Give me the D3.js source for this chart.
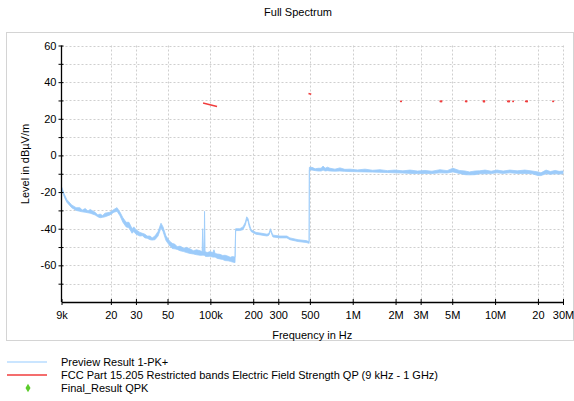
<!DOCTYPE html>
<head>
  <meta charset="utf-8">
  <script src="https://cdnjs.cloudflare.com/ajax/libs/d3/7.8.5/d3.min.js"></script>
  <style>
    body { margin: 0; background: #fff; }
    text { font-family: "Liberation Sans", Arial, sans-serif; }
  </style>
</head>

<body>
  <div id="chart"></div>

  <script>
    // preview trace: frequency (Hz), upper and lower edge of the noise band (dBµV/m)
    const previewFreq = [
      9.0e3, 9.4e3, 9.8e3, 10.6e3, 11.4e3, 12.1e3, 12.6e3, 13.2e3, 13.8e3, 14.3e3,
      15.5e3, 16.2e3, 16.8e3, 17.5e3, 18.2e3, 19.7e3, 21.0e3, 22.1e3, 23.2e3, 24.3e3,
      25.6e3, 26.8e3, 28.2e3, 29.0e3, 30.0e3, 32.0e3, 33.3e3, 34.7e3, 36.0e3, 37.7e3,
      39.0e3, 40.8e3, 42.9e3, 45.0e3, 46.5e3, 48.8e3, 52.0e3, 54.0e3, 56.4e3, 58.5e3,
      61.2e3, 65.0e3, 68.0e3, 71.9e3, 76.0e3, 80.0e3, 84.6e3, 87.5e3, 88.3e3, 89.5e3,
      90.5e3, 91.0e3, 91.8e3, 95.0e3, 99.5e3, 104e3, 106e3, 108e3, 112e3, 116.8e3,
      122e3, 127e3, 133e3, 138e3, 143e3, 149e3, 150.5e3, 161e3, 169.6e3, 176e3,
      180e3, 184e3, 187e3, 193e3, 209e3, 230e3, 250e3, 258e3, 264.5e3, 270e3,
      275e3, 308e3, 345e3, 362e3, 413e3, 470e3, 494e3, 496e3, 518e3, 545e3,
      571e3, 600e3, 619e3, 640e3, 665e3, 692e3, 750e3, 813e3, 880e3, 957e3,
      1.08e6, 1.22e6, 1.38e6, 1.555e6, 1.75e6, 1.98e6, 2.25e6, 2.53e6, 2.85e6, 3.22e6,
      3.6e6, 4.1e6, 4.6e6, 5.06e6, 5.6e6, 6.15e6, 6.6e6, 7.23e6, 7.8e6, 8.5e6,
      9.4e6, 10.3e6, 11.4e6, 12.7e6, 14.3e6, 16.2e6, 18.2e6, 20.0e6, 21.0e6, 22.8e6,
      24.5e6, 26.4e6, 28.2e6, 30.0e6
    ];
    const previewHi = [
      -17, -21, -24, -27, -28.5, -28.5, -29.8, -29, -30.3, -29.5,
      -31, -32.5, -32, -32.8, -31.5, -31, -29.5, -28.5, -31, -34,
      -36.5, -36.5, -40, -39, -40.5, -42, -42.5, -43, -44, -44,
      -45, -44, -41.5, -37, -39, -44, -47, -48, -48.5, -49.8,
      -49.5, -50.6, -50.2, -51, -52, -51.5, -52, -52.5, -40, -52.5,
      -52.5, -30.5, -52.5, -53, -52.5, -53, -51.5, -53.5, -53.8, -54,
      -54.6, -54.5, -55, -55.6, -55.2, -55.5, -40, -40, -39, -36.5,
      -33.5, -34.5, -37, -40.5, -42, -42.5, -43, -42.5, -40, -42,
      -43.5, -44, -44, -45, -46, -46.5, -47, -6.5, -6.5, -7.3,
      -7, -7, -5.8, -7, -6.4, -7, -7.5, -6.8, -7.6, -7.5,
      -7.9, -7.5, -8.1, -7.8, -8.3, -8, -8.4, -8, -8.5, -8.2,
      -8.6, -7.8, -8.3, -7, -8.2, -8.5, -9, -8.5, -8.4, -8,
      -8.6, -8, -8.5, -8, -8.4, -8, -8.5, -9, -9.5, -8,
      -8.8, -8.2, -8.7, -8.5
    ];
    const previewLo = [
      -18.5, -22.5, -25.5, -28.5, -30, -30.5, -30.8, -31, -31.3, -31.5,
      -32.5, -33.5, -34, -33.8, -33.5, -32.5, -31, -30.5, -33, -36.5,
      -39, -39.5, -42.5, -41.5, -43, -44, -43.8, -45, -45.2, -46,
      -46.2, -46, -44, -39.5, -41.5, -46.5, -49.5, -50.8, -51, -51.3,
      -52, -52.5, -53, -53.5, -53.8, -54.2, -54.5, -54.5, -54.5, -54.5,
      -54.5, -54.5, -55, -55.2, -55, -55.5, -55.5, -55.5, -56.2, -56.5,
      -56.8, -57.4, -57.5, -57.8, -58.2, -58.5, -41, -41, -40.5, -38,
      -35, -36, -38.5, -41.5, -43, -43.5, -44, -43.5, -41, -43,
      -44.5, -45, -45, -46, -47, -47.5, -48, -8, -8, -8.3,
      -8.5, -8.5, -8, -8.5, -8.3, -8.5, -8.6, -8.5, -8.7, -8.8,
      -8.9, -9, -9.1, -9.2, -9.3, -9.5, -9.6, -9.8, -9.9, -9.8,
      -9.9, -9.5, -9.6, -9, -9.8, -10.5, -10.6, -10.5, -10, -10,
      -9.9, -9.5, -9.8, -9.5, -9.8, -9.8, -10, -11, -11, -10,
      -10.3, -10, -10.2, -10
    ];

    // FCC Part 15.205 restricted bands (start Hz, stop Hz, level at start, level at stop)
    const limitStart = [90e3, 495e3, 2.1735e6, 4.125e6, 4.17725e6, 4.20725e6, 6.215e6, 6.26775e6, 6.31175e6,
      8.291e6, 8.362e6, 8.37625e6, 8.41425e6, 12.29e6, 12.51975e6, 12.57675e6, 13.36e6,
      16.42e6, 16.69475e6, 16.80425e6, 25.5e6];
    const limitStop = [110e3, 505e3, 2.1905e6, 4.128e6, 4.17775e6, 4.20775e6, 6.218e6, 6.26825e6, 6.31225e6,
      8.294e6, 8.366e6, 8.38675e6, 8.41475e6, 12.293e6, 12.52025e6, 12.57725e6, 13.41e6,
      16.423e6, 16.69525e6, 16.80475e6, 25.67e6];
    const limitFrom = [28.5, 33.7, 29.5, 29.5, 29.5, 29.5, 29.5, 29.5, 29.5,
      29.5, 29.5, 29.5, 29.5, 29.5, 29.5, 29.5, 29.5, 29.5, 29.5, 29.5, 29.5];
    const limitTo = [26.8, 33.5, 29.5, 29.5, 29.5, 29.5, 29.5, 29.5, 29.5,
      29.5, 29.5, 29.5, 29.5, 29.5, 29.5, 29.5, 29.5, 29.5, 29.5, 29.5, 29.5];

    const xTicks = [9e3, 20e3, 30e3, 50e3, 100e3, 200e3, 300e3, 500e3, 1e6, 2e6, 3e6, 5e6, 10e6, 20e6, 30e6];
    const xTickLabels = ['9k', '20', '30', '50', '100k', '200', '300', '500', '1M', '2M', '3M', '5M', '10M', '20', '30M'];
    const yTicks = [-70, -60, -50, -40, -30, -20, -10, 0, 10, 20, 30, 40, 50, 60];

    const legendNames = ['Preview Result 1-PK+',
      'FCC Part 15.205 Restricted bands Electric Field Strength QP (9 kHz - 1 GHz)',
      'Final_Result QPK'];

    const width = 574, height = 401;
    const blue = '#9ccbfa', red = '#f03c3c', green = '#5ccc2c';

    const svg = d3.select('#chart').append('svg')
      .attr('width', width)
      .attr('height', height);

    const x = d3.scaleLog().domain([9e3, 30e6]).range([61.5, 563]);
    const y = d3.scaleLinear().domain([-80, 60]).range([302, 45.5]);

    // frame and title
    svg.append('rect')
      .attr('x', 6.5).attr('y', 32.5)
      .attr('width', 567).attr('height', 308)
      .attr('fill', 'none').attr('stroke', '#d4d4d4');

    svg.append('text')
      .attr('x', 298).attr('y', 16)
      .attr('text-anchor', 'middle')
      .attr('font-size', 11)
      .text('Full Spectrum');

    // grid
    const grid = svg.append('g')
      .attr('stroke', '#cfcfcf')
      .attr('stroke-dasharray', '2,2');
    grid.selectAll('.gy').data(yTicks).join('line')
      .attr('x1', x.range()[0]).attr('x2', x.range()[1])
      .attr('y1', d => Math.round(y(d)) + 0.5).attr('y2', d => Math.round(y(d)) + 0.5);
    grid.selectAll('.gx').data(xTicks.slice(1)).join('line')
      .attr('x1', d => Math.round(x(d)) + 0.5).attr('x2', d => Math.round(x(d)) + 0.5)
      .attr('y1', y.range()[1]).attr('y2', y.range()[0]);

    // preview trace as a noise band
    const series = previewFreq.map((f, i) => ({ f: f, hi: previewHi[i], lo: previewLo[i] }));
    const band = d3.area()
      .x(d => x(d.f))
      .y0(d => y(d.lo))
      .y1(d => y(d.hi));
    svg.append('path')
      .datum(series)
      .attr('d', band)
      .attr('fill', blue)
      .attr('stroke', blue)
      .attr('stroke-width', 0.8);

    // limit segments
    svg.append('g').selectAll('line').data(limitStart).join('line')
      .attr('x1', (d, i) => x(d))
      .attr('x2', (d, i) => x(limitStop[i]))
      .attr('y1', (d, i) => y(limitFrom[i]))
      .attr('y2', (d, i) => y(limitTo[i]))
      .attr('stroke', red)
      .attr('stroke-width', 1.6)
      .attr('stroke-linecap', 'square');

    // axes
    const yAxis = svg.append('g')
      .attr('transform', `translate(${x.range()[0]},0)`)
      .call(d3.axisLeft(y).tickValues(yTicks).tickSizeInner(3).tickSizeOuter(0).tickPadding(2)
        .tickFormat(d => d % 20 === 0 ? d : ''));
    yAxis.selectAll('.tick line').attr('x2', -3).attr('x1', 2);
    yAxis.select('.domain').attr('d', `M0,${y.range()[1]}V${y.range()[0]}`).attr('stroke-width', 1.3);
    yAxis.selectAll('text').attr('font-size', 11).attr('font-family', '"Liberation Sans", Arial, sans-serif').attr('fill', '#000');

    const xAxis = svg.append('g')
      .attr('transform', `translate(0,${y.range()[0]})`)
      .call(d3.axisBottom(x).tickValues(xTicks).tickSizeInner(3).tickSizeOuter(0).tickPadding(6)
        .tickFormat((d, i) => xTickLabels[i]));
    xAxis.selectAll('.tick line').attr('y1', -3).attr('y2', 3);
    xAxis.select('.domain').attr('stroke-width', 1.3);
    xAxis.selectAll('text').attr('font-size', 11).attr('font-family', '"Liberation Sans", Arial, sans-serif').attr('fill', '#000');

    svg.append('text')
      .attr('x', (x.range()[0] + x.range()[1]) / 2).attr('y', 339)
      .attr('text-anchor', 'middle')
      .attr('font-size', 11)
      .text('Frequency in Hz');

    svg.append('text')
      .attr('transform', 'translate(29,164) rotate(-90)')
      .attr('text-anchor', 'middle')
      .attr('font-size', 11)
      .text('Level in dBµV/m');

    // legend
    const legend = svg.append('g');
    const rowY = d3.scaleLinear().domain([0, 2]).range([362, 388]);
    legend.append('line')
      .attr('x1', 7).attr('x2', 47).attr('y1', rowY(0)).attr('y2', rowY(0))
      .attr('stroke', '#b8dcff').attr('stroke-width', 1.5);
    legend.append('line')
      .attr('x1', 7).attr('x2', 47).attr('y1', rowY(1)).attr('y2', rowY(1))
      .attr('stroke', red).attr('stroke-width', 1.5);
    legend.append('path')
      .attr('d', d3.symbol(d3.symbolDiamond, 22)())
      .attr('transform', `translate(28,${rowY(2)})`)
      .attr('fill', green);
    legend.selectAll('text').data(legendNames).join('text')
      .attr('x', 61)
      .attr('y', (d, i) => rowY(i) + 4)
      .attr('font-size', 11)
      .text(d => d);
  </script>
</body>
